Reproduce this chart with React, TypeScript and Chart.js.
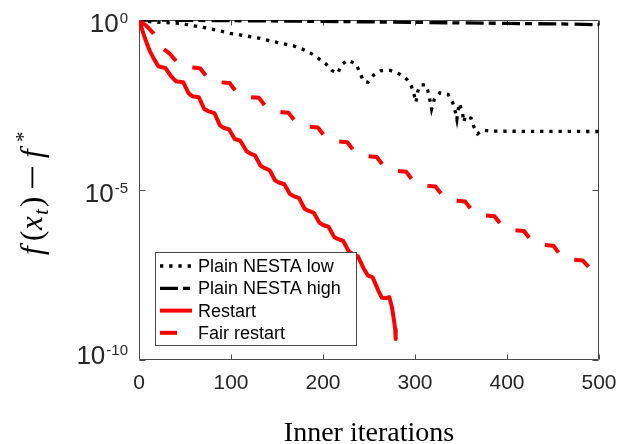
import React, { useEffect, useRef } from 'react';
import { Chart, registerables } from 'chart.js';

Chart.register(...registerables);

// ---------------- data ----------------
const xTickValues = [0, 100, 200, 300, 400, 500];
const yTickExponents = [0, -5, -10];
const xTitle = 'Inner iterations';
const seriesNames = ['Plain NESTA low', 'Plain NESTA high', 'Restart', 'Fair restart'];

// Plain NESTA low (dotted black): iteration and log10(f(x_t) - f*)
const lowIter = [0, 12, 45, 74, 99, 130, 150, 168, 178, 187, 195, 203, 210, 216, 220, 227, 236, 240, 244, 249, 255, 263, 273, 283, 291, 296, 299, 301, 303, 306, 312, 315, 318, 321, 327, 336, 341, 344, 345.5, 348, 351.5, 353, 355, 361, 364, 368, 374, 382, 500];
const lowLog10 = [0, -0.05, -0.1, -0.24, -0.39, -0.53, -0.66, -0.76, -0.86, -0.98, -1.13, -1.29, -1.49, -1.57, -1.32, -1.18, -1.29, -1.54, -1.8, -1.83, -1.62, -1.49, -1.48, -1.59, -1.74, -1.94, -2.2, -2.42, -2.1, -1.91, -1.91, -2.18, -2.62, -2.33, -2.14, -2.19, -2.43, -2.72, -2.92, -2.45, -2.7, -3.0, -2.82, -2.89, -3.14, -3.35, -3.24, -3.27, -3.28];

// Plain NESTA high (dash-dot black)
const highIter = [0, 100, 200, 300, 400, 470, 500];
const highLog10 = [0, -0.02, -0.04, -0.07, -0.1, -0.12, -0.14];

// Restart (solid red)
const restartIter = [0, 3, 6, 9, 12, 17, 21, 29, 35, 40, 48, 54, 58, 65, 71, 75, 82, 88, 92, 98, 104, 110, 117, 121, 126, 132, 136, 142, 148, 152, 158, 164, 168, 174, 180, 184, 190, 196, 200, 206, 212, 216, 222, 228, 232, 238, 244, 249, 254, 260, 264, 268, 272, 275, 277, 278.5, 279];
const restartLog10 = [0, -0.25, -0.5, -0.72, -0.93, -1.18, -1.36, -1.42, -1.66, -1.8, -1.83, -2.16, -2.24, -2.27, -2.62, -2.68, -2.74, -3.1, -3.17, -3.22, -3.5, -3.55, -3.86, -3.93, -3.98, -4.28, -4.35, -4.42, -4.72, -4.78, -4.83, -5.12, -5.18, -5.24, -5.55, -5.61, -5.67, -5.96, -6.03, -6.08, -6.38, -6.44, -6.5, -6.8, -6.88, -6.95, -7.3, -7.52, -7.57, -7.95, -8.17, -8.18, -8.15, -8.45, -8.8, -9.1, -9.38];

// Fair restart (dashed red)
const fairIter = [0, 8, 16, 24, 28, 33, 40, 45.4, 66.4, 77.4, 98.4, 109.4, 130.4, 141.4, 162.4, 173.4, 194.4, 205.4, 226.4, 237.4, 258.4, 269.4, 290.4, 301.4, 322.4, 333.4, 354.4, 365.4, 386.4, 397.4, 418.4, 429.4, 450.4, 461.4, 482.4, 490];
const fairLog10 = [0, -0.17, -0.4, -0.8, -0.88, -0.98, -1.2, -1.37, -1.42, -1.805, -1.855, -2.24, -2.29, -2.675, -2.725, -3.11, -3.16, -3.545, -3.595, -3.98, -4.03, -4.415, -4.465, -4.85, -4.9, -5.285, -5.335, -5.72, -5.77, -6.155, -6.205, -6.59, -6.64, -7.025, -7.075, -7.3];

// ---------------- helpers ----------------
const toPoints = (xs: number[], logs: number[]) =>
  xs.map((x, i) => ({ x, y: Math.pow(10, logs[i]) }));

const AXIS_COLOR = '#262626';
const FRAME_COLOR = '#4a4a4a';
const SANS = '"Liberation Sans", Arial, Helvetica, sans-serif';
const SERIF = '"Liberation Serif", "Times New Roman", serif';

const framePlugin = {
  id: 'matlabFrame',
  beforeDatasetsDraw(chart: any) {
    const { ctx, chartArea: a, scales } = chart;
    const L = Math.round(a.left) + 0.5;
    const R = Math.round(a.right) - 0.5;
    const T = Math.round(a.top) + 0.5;
    const B = Math.round(a.bottom) - 0.5;
    ctx.save();
    ctx.strokeStyle = FRAME_COLOR;
    ctx.lineWidth = 1;
    ctx.beginPath();
    ctx.rect(L, T, R - L, B - T);
    for (const v of xTickValues) {
      const px = Math.round(scales.x.getPixelForValue(v)) + 0.5;
      ctx.moveTo(px, B); ctx.lineTo(px, B - 5);
      ctx.moveTo(px, T); ctx.lineTo(px, T + 5);
    }
    for (const e of yTickExponents) {
      const py = Math.round(scales.y.getPixelForValue(Math.pow(10, e))) + 0.5;
      ctx.moveTo(L, py); ctx.lineTo(L + 6, py);
      ctx.moveTo(R, py); ctx.lineTo(R - 6, py);
    }
    ctx.stroke();
    ctx.restore();
  },
  afterDatasetsDraw(chart: any) {
    const { ctx } = chart;
    const box = { l: 155.5, t: 252.5, r: 356.5, b: 345.5 };
    ctx.save();
    ctx.fillStyle = '#fff';
    ctx.fillRect(box.l, box.t, box.r - box.l, box.b - box.t);
    ctx.strokeStyle = FRAME_COLOR;
    ctx.lineWidth = 1;
    ctx.strokeRect(box.l, box.t, box.r - box.l, box.b - box.t);
    const rows = [266, 288.3, 310.6, 332.8];
    chart.data.datasets.forEach((ds: any, i: number) => {
      const y = rows[i];
      ctx.save();
      ctx.strokeStyle = ds.borderColor;
      ctx.lineWidth = ds.borderWidth;
      ctx.setLineDash(ds.borderDash || []);
      ctx.lineCap = 'butt';
      ctx.beginPath();
      ctx.moveTo(160, y);
      ctx.lineTo(192, y);
      ctx.stroke();
      ctx.restore();
      ctx.fillStyle = '#000';
      ctx.font = `18px ${SANS}`;
      ctx.textAlign = 'left';
      ctx.textBaseline = 'middle';
      ctx.fillText(ds.label, 198, y + 1);
    });
    ctx.restore();
  },
  afterDraw(chart: any) {
    const { ctx, chartArea: a, scales } = chart;
    ctx.save();
    // y tick labels 10^e (kept from running below the axis bottom)
    ctx.fillStyle = AXIS_COLOR;
    ctx.textBaseline = 'alphabetic';
    for (const e of yTickExponents) {
      const py = scales.y.getPixelForValue(Math.pow(10, e));
      const base = Math.min(py + 12, a.bottom + 4);
      const exp = String(e);
      ctx.font = `15px ${SANS}`;
      const ew = ctx.measureText(exp).width;
      const right = 128;
      ctx.textAlign = 'left';
      ctx.fillText(exp, right - ew, base - 9);
      ctx.font = `26px ${SANS}`;
      ctx.textAlign = 'right';
      ctx.fillText('10', right - ew - 1, base);
    }
    // x title
    ctx.fillStyle = '#000';
    ctx.font = `28px ${SERIF}`;
    ctx.textAlign = 'center';
    ctx.textBaseline = 'alphabetic';
    ctx.fillText(xTitle, (a.left + a.right) / 2, 441);

    // y title: f(x_t) − f^*, drawn rotated; offsets measured along the text from its start
    ctx.translate(33, 260);
    ctx.rotate(-Math.PI / 2);
    ctx.textAlign = 'left';
    const base = 9;
    const parts = [
      { t: 'f', font: `italic 31px ${SERIF}`, at: 5, dy: 0 },
      { t: '(', font: `31px ${SERIF}`, at: 19, dy: 0 },
      { t: 'x', font: `italic 31px ${SERIF}`, at: 30, dy: 0 },
      { t: 't', font: `italic 21px ${SERIF}`, at: 45, dy: 6 },
      { t: ')', font: `31px ${SERIF}`, at: 53, dy: 0 },
      { t: 'f', font: `italic 31px ${SERIF}`, at: 102, dy: 0 },
      { t: '*', font: `21px ${SERIF}`, at: 118, dy: -12 },
    ];
    parts.forEach((p) => {
      ctx.font = p.font;
      ctx.fillText(p.t, p.at, base + p.dy);
    });
    // minus sign
    ctx.fillRect(72, base - 10.5, 21, 1.8);
    ctx.restore();
  },
};

export default function App() {
  const canvasRef = useRef<HTMLCanvasElement | null>(null);

  useEffect(() => {
    document.body.style.margin = '0';
    const canvas = canvasRef.current;
    if (!canvas) return;
    const chart = new Chart(canvas, {
      type: 'line',
      data: {
        datasets: [
          {
            label: seriesNames[0],
            data: toPoints(lowIter, lowLog10),
            borderColor: '#000000',
            borderWidth: 3.3,
            borderDash: [3.3, 5.9],
            borderCapStyle: 'butt',
            pointRadius: 0,
            tension: 0,
            fill: false,
            order: 4,
          },
          {
            label: seriesNames[1],
            data: toPoints(highIter, highLog10),
            borderColor: '#000000',
            borderWidth: 3.3,
            borderDash: [18, 5, 7, 6.3],
            borderCapStyle: 'butt',
            pointRadius: 0,
            tension: 0,
            fill: false,
            order: 3,
          },
          {
            label: seriesNames[2],
            data: toPoints(restartIter, restartLog10),
            borderColor: '#ff0000',
            borderWidth: 4,
            borderJoinStyle: 'round',
            pointRadius: 0,
            tension: 0,
            fill: false,
            order: 2,
          },
          {
            label: seriesNames[3],
            data: toPoints(fairIter, fairLog10),
            borderColor: '#ff0000',
            borderWidth: 4,
            borderDash: [17, 18.88],
            borderDashOffset: 32.7,
            borderCapStyle: 'butt',
            borderJoinStyle: 'round',
            pointRadius: 0,
            tension: 0,
            fill: false,
            order: 1,
          },
        ],
      },
      options: {
        animation: false,
        responsive: false,
        devicePixelRatio: 1,
        layout: { padding: { left: 0, top: 20, right: 19, bottom: 0 } },
        plugins: { legend: { display: false }, tooltip: { enabled: false } },
        scales: {
          x: {
            type: 'linear',
            min: 0,
            max: 500,
            grid: { display: false, drawTicks: false },
            border: { display: false },
            ticks: {
              stepSize: 100,
              color: AXIS_COLOR,
              font: { family: SANS, size: 21 },
              padding: 11,
              maxRotation: 0,
            },
            afterFit: (s: any) => {
              s.height = 84;
              s.paddingLeft = 0;
              s.paddingRight = 0;
            },
          },
          y: {
            type: 'logarithmic',
            min: 1e-10,
            max: 1,
            grid: { display: false, drawTicks: false },
            border: { display: false },
            ticks: { display: false },
            afterFit: (s: any) => {
              s.width = 139;
              s.paddingTop = 0;
              s.paddingBottom = 0;
            },
          },
        },
      },
      plugins: [framePlugin],
    } as any);
    return () => chart.destroy();
  }, []);

  return (
    <div style={{ width: 618, height: 444 }}>
      <canvas ref={canvasRef} width={618} height={444} style={{ display: 'block' }} />
    </div>
  );
}
